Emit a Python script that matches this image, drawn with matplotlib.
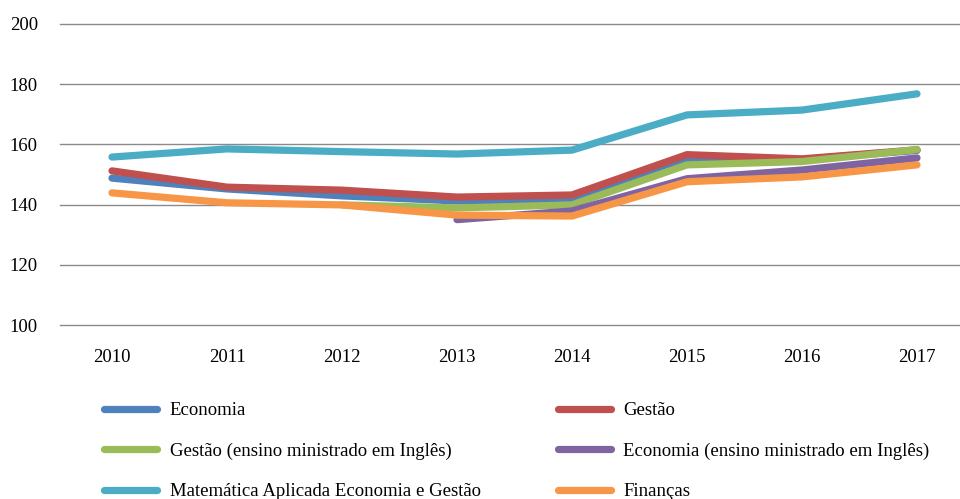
import matplotlib.pyplot as plt

plt.rcParams["font.family"] = ["Liberation Serif", "DejaVu Serif"]

years = ["2010", "2011", "2012", "2013", "2014", "2015", "2016", "2017"]

economia = [148.8, 145.2, 142.9, 141.2, 141.5, 154.8, 155.0, 158.0]
gestao = [151.2, 145.8, 144.8, 142.5, 143.2, 156.6, 155.2, 158.2]
gestao_ingles = [None, None, 139.9, 138.9, 139.9, 153.2, 154.3, 158.3]
economia_ingles = [None, None, None, 135.0, 137.9, 148.6, 151.5, 155.5]
matematica = [155.8, 158.5, 157.6, 156.8, 158.1, 169.8, 171.4, 176.8]
financas = [143.9, 140.6, 139.9, 136.5, 136.2, 147.6, 149.2, 153.2]

series = [
    ("Economia", economia, "#4F81BD"),
    ("Gestão", gestao, "#C0504D"),
    ("Gestão (ensino ministrado em Inglês)", gestao_ingles, "#9BBB59"),
    ("Economia (ensino ministrado em Inglês)", economia_ingles, "#8064A2"),
    ("Matemática Aplicada Economia e Gestão", matematica, "#4BACC6"),
    ("Finanças", financas, "#F79646"),
]


def main():
    fig = plt.figure(figsize=(9.6, 4.99), dpi=100)
    ax = fig.add_axes([60 / 960, 1 - 325 / 499, 900 / 960, 301 / 499])

    x = list(range(len(years)))
    for label, values, color in series:
        pts = [(xi, v) for xi, v in zip(x, values) if v is not None]
        ax.plot(
            [p[0] for p in pts],
            [p[1] for p in pts],
            color=color,
            linewidth=5.2,
            solid_capstyle="round",
            solid_joinstyle="round",
            label=label,
        )

    ax.set_ylim(100, 200)
    ax.set_yticks([100, 120, 140, 160, 180, 200])
    ax.set_xlim(-52 / 115, 7 + 43 / 115)
    ax.set_xticks(x)
    ax.set_xticklabels(years)
    ax.tick_params(axis="both", length=0, labelsize=13.5, colors="black")
    ax.tick_params(axis="y", pad=16)
    ax.tick_params(axis="x", pad=17.5)
    ax.grid(axis="y", color="#8a8a8a", linewidth=1.0)
    for line in ax.get_ygridlines():
        line.set_clip_on(False)
    ax.set_axisbelow(True)
    for spine in ax.spines.values():
        spine.set_visible(False)

    handles, labels = ax.get_legend_handles_labels()
    # legend is filled row by row in the reference, matplotlib fills by column
    order = [0, 2, 4, 1, 3, 5]
    fig.legend(
        [handles[i] for i in order],
        [labels[i] for i in order],
        loc="upper left",
        bbox_to_anchor=(104 / 960, 1 - 402 / 499),
        ncol=2,
        frameon=False,
        fontsize=13.5,
        handlelength=2.85,
        handletextpad=0.65,
        labelspacing=1.25,
        columnspacing=4.1,
        borderaxespad=0,
        borderpad=0,
    )

    fig.savefig("out.png", dpi=100)
    plt.close(fig)


if __name__ == "__main__":
    main()
